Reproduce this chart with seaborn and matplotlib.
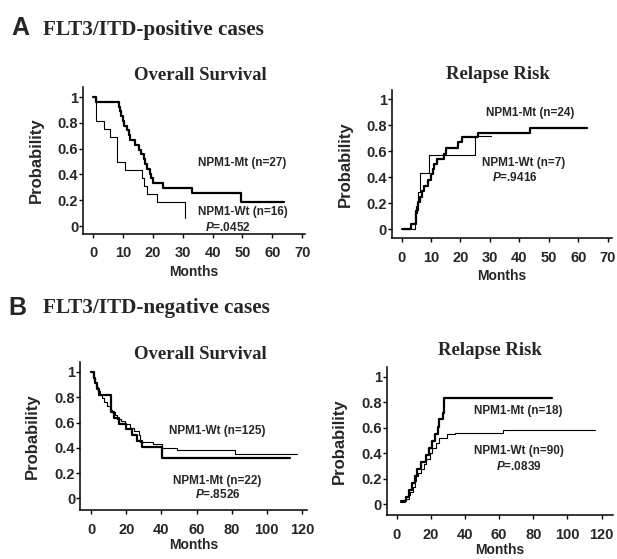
import numpy as np
import pandas as pd
import matplotlib
matplotlib.use("Agg")
import matplotlib.pyplot as plt
import seaborn as sns

# --- data (time in months, probability) ---
# A: FLT3/ITD-positive, overall survival
a_os_mt_t = [0, 1, 8.5, 9, 9.5, 10, 10.5, 11.3, 12, 12.5, 14, 15.5, 16, 17, 17.5, 18.2, 19, 19.5, 20, 23.5, 33, 49.5, 64]
a_os_mt_p = [1.0, 0.963, 0.926, 0.889, 0.852, 0.815, 0.778, 0.741, 0.704, 0.667, 0.630, 0.593, 0.556, 0.519,
             0.481, 0.444, 0.407, 0.370, 0.333, 0.296, 0.259, 0.185, 0.185]
a_os_wt_t = [0, 0.8, 3.5, 5.7, 8.1, 10.7, 16.5, 17.2, 18, 21.3, 30.8]
a_os_wt_p = [1.0, 0.8125, 0.75, 0.6875, 0.5, 0.4375, 0.375, 0.3125, 0.25, 0.1875, 0.0625]

# A: FLT3/ITD-positive, relapse risk
a_rr_mt_t = [0, 3.2, 4.8, 5.2, 5.6, 6.2, 6.8, 7.5, 9, 10, 10.6, 11, 12, 14.5, 15, 19.2, 20.5, 26, 43.5, 63]
a_rr_mt_p = [0, 0.04, 0.125, 0.17, 0.21, 0.25, 0.29, 0.33, 0.375, 0.42, 0.46, 0.5, 0.54, 0.58, 0.625,
             0.67, 0.71, 0.74, 0.78, 0.78]
a_rr_wt_t = [0, 4.7, 5.5, 6.3, 9.4, 25.1, 30.5]
a_rr_wt_p = [0, 0.143, 0.286, 0.429, 0.571, 0.714, 0.714]

# B: FLT3/ITD-negative, overall survival
b_os_wt_t = [0, 1, 2, 3, 4, 5, 6, 7.5, 9, 10.5, 12, 13.5, 15, 17, 19.5, 22, 24.5, 27, 28, 35, 40.4, 49, 82, 117]
b_os_wt_p = [1, 0.95, 0.91, 0.88, 0.85, 0.82, 0.79, 0.76, 0.73, 0.70, 0.68, 0.66, 0.63, 0.61, 0.59, 0.56,
             0.53, 0.50, 0.45, 0.43, 0.40, 0.38, 0.35, 0.35]
b_os_mt_t = [0, 1.5, 2.5, 3.5, 4.5, 11.3, 13, 16, 20, 23, 26, 29, 40.4, 113]
b_os_mt_p = [1, 0.955, 0.909, 0.864, 0.818, 0.682, 0.636, 0.591, 0.545, 0.5, 0.455, 0.409, 0.318, 0.318]

# B: FLT3/ITD-negative, relapse risk
b_rr_mt_t = [2.5, 5.5, 7, 9, 10.5, 12, 14.5, 17, 19, 21, 22.5, 24, 25, 27, 27.5, 91]
b_rr_mt_p = [0.03, 0.06, 0.11, 0.17, 0.22, 0.28, 0.33, 0.39, 0.44, 0.5, 0.55, 0.61, 0.67, 0.72, 0.833, 0.833]
b_rr_wt_t = [2, 5, 7, 8, 9.5, 10.5, 11.5, 12.5, 14, 16, 17.5, 19.5, 21, 23, 25, 29.5, 34, 62, 116]
b_rr_wt_p = [0.02, 0.04, 0.07, 0.1, 0.14, 0.18, 0.22, 0.25, 0.28, 0.32, 0.36, 0.40, 0.44, 0.48, 0.52,
             0.55, 0.56, 0.58, 0.58]

y_ticks = [0, 0.2, 0.4, 0.6, 0.8, 1]
y_ticklabels = ["0", "0.2", "0.4", "0.6", "0.8", "1"]

sns.set_theme(style="ticks")
plt.rcParams['font.family'] = ['Liberation Sans', 'DejaVu Sans']
plt.rcParams['mathtext.fontset'] = 'custom'
plt.rcParams['mathtext.it'] = 'Liberation Sans:italic:bold'
plt.rcParams['mathtext.rm'] = 'Liberation Sans:bold'

SERIF = 'Liberation Serif'


def km_frame(mt_t, mt_p, wt_t, wt_p):
    d1 = pd.DataFrame({"t": mt_t, "p": mt_p, "grp": "Mt"})
    d2 = pd.DataFrame({"t": wt_t, "p": wt_p, "grp": "Wt"})
    return pd.concat([d1, d2], ignore_index=True)


def draw(ax, df, xmax_ticks, xstep, xlim, ylim, texts, xlabelpad=3):
    sns.lineplot(data=df, x="t", y="p", size="grp", sizes={"Mt": 1.6, "Wt": 0.8},
                 estimator=None, sort=False, drawstyle="steps-post", color="black",
                 legend=False, ax=ax)
    ax.set_xlim(*xlim)
    ax.set_ylim(*ylim)
    ax.set_xticks(np.arange(0, xmax_ticks + 1, xstep))
    ax.set_xticklabels([str(v) for v in np.arange(0, xmax_ticks + 1, xstep)],
                       fontsize=10.5, fontweight='bold')
    ax.set_yticks(y_ticks)
    ax.set_yticklabels(y_ticklabels, fontsize=10.5, fontweight='bold')
    ax.tick_params(axis='y', length=3, width=1, pad=0.5, color='black')
    ax.tick_params(axis='x', length=3, width=1, pad=6, color='black')
    for s in ['top', 'right']:
        ax.spines[s].set_visible(False)
    for s in ['left', 'bottom']:
        ax.spines[s].set_linewidth(1.1)
        ax.spines[s].set_color('black')
    ax.set_xlabel("Months", fontsize=10, fontweight='bold', labelpad=xlabelpad)
    ax.set_ylabel("Probability", fontsize=12, fontweight='bold')
    ax.yaxis.set_label_coords(-0.175, 0.5)
    for (x, y, s) in texts:
        ax.text(x, y, s, fontsize=8.5, fontweight='bold', ha='center', va='center')


fig = plt.figure(figsize=(6.17, 5.59), dpi=100)
fig.patch.set_facecolor('white')

ax1 = fig.add_axes([0.1345, 0.5814, 0.360, 0.263])
draw(ax1, km_frame(a_os_mt_t, a_os_mt_p, a_os_wt_t, a_os_wt_p), 70, 10, (-3.4, 71), (-0.062, 1.078),
     [(50, 0.49, "NPM1-Mt (n=27)"), (50, 0.11, "NPM1-Wt (n=16)"), (45, -0.015, r"$P$=.0452")])

ax2 = fig.add_axes([0.635, 0.574, 0.357, 0.265])
draw(ax2, km_frame(a_rr_mt_t, a_rr_mt_p, a_rr_wt_t, a_rr_wt_p), 70, 10, (-3.3, 71.5), (-0.07, 1.07),
     [(43.6, 0.89, "NPM1-Mt (n=24)"), (41.5, 0.51, "NPM1-Wt (n=7)"), (38.5, 0.40, r"$P$=.9416")])

ax3 = fig.add_axes([0.1297, 0.0873, 0.368, 0.265])
draw(ax3, km_frame(b_os_mt_t, b_os_mt_p, b_os_wt_t, b_os_wt_p), 120, 20, (-6.3, 122.9), (-0.093, 1.078),
     [(72, 0.53, "NPM1-Wt (n=125)"), (72, 0.14, "NPM1-Mt (n=22)"), (72, 0.03, r"$P$=.8526")], xlabelpad=1)

ax4 = fig.add_axes([0.627, 0.0783, 0.366, 0.265])
draw(ax4, km_frame(b_rr_mt_t, b_rr_mt_p, b_rr_wt_t, b_rr_wt_p), 120, 20, (-5.7, 126.5), (-0.085, 1.077),
     [(71.4, 0.73, "NPM1-Mt (n=18)"), (71.4, 0.415, "NPM1-Wt (n=90)"), (71.4, 0.30, r"$P$=.0839")], xlabelpad=1)

# panel titles
fig.text(0.324, 0.857, "Overall Survival", family=SERIF, fontweight='bold', fontsize=13.5, ha='center', va='baseline')
fig.text(0.807, 0.859, "Relapse Risk", family=SERIF, fontweight='bold', fontsize=13.5, ha='center', va='baseline')
fig.text(0.324, 0.358, "Overall Survival", family=SERIF, fontweight='bold', fontsize=13.5, ha='center', va='baseline')
fig.text(0.794, 0.365, "Relapse Risk", family=SERIF, fontweight='bold', fontsize=13.5, ha='center', va='baseline')

# section headers
fig.text(0.019, 0.938, "A", fontsize=18, fontweight='bold', ha='left', va='baseline')
fig.text(0.070, 0.938, "FLT3/ITD-positive cases", family=SERIF, fontweight='bold', fontsize=15.3,
         ha='left', va='baseline')
fig.text(0.014, 0.437, "B", fontsize=18, fontweight='bold', ha='left', va='baseline')
fig.text(0.070, 0.440, "FLT3/ITD-negative cases", family=SERIF, fontweight='bold', fontsize=15.3,
         ha='left', va='baseline')

plt.savefig("out.png", dpi=100)
